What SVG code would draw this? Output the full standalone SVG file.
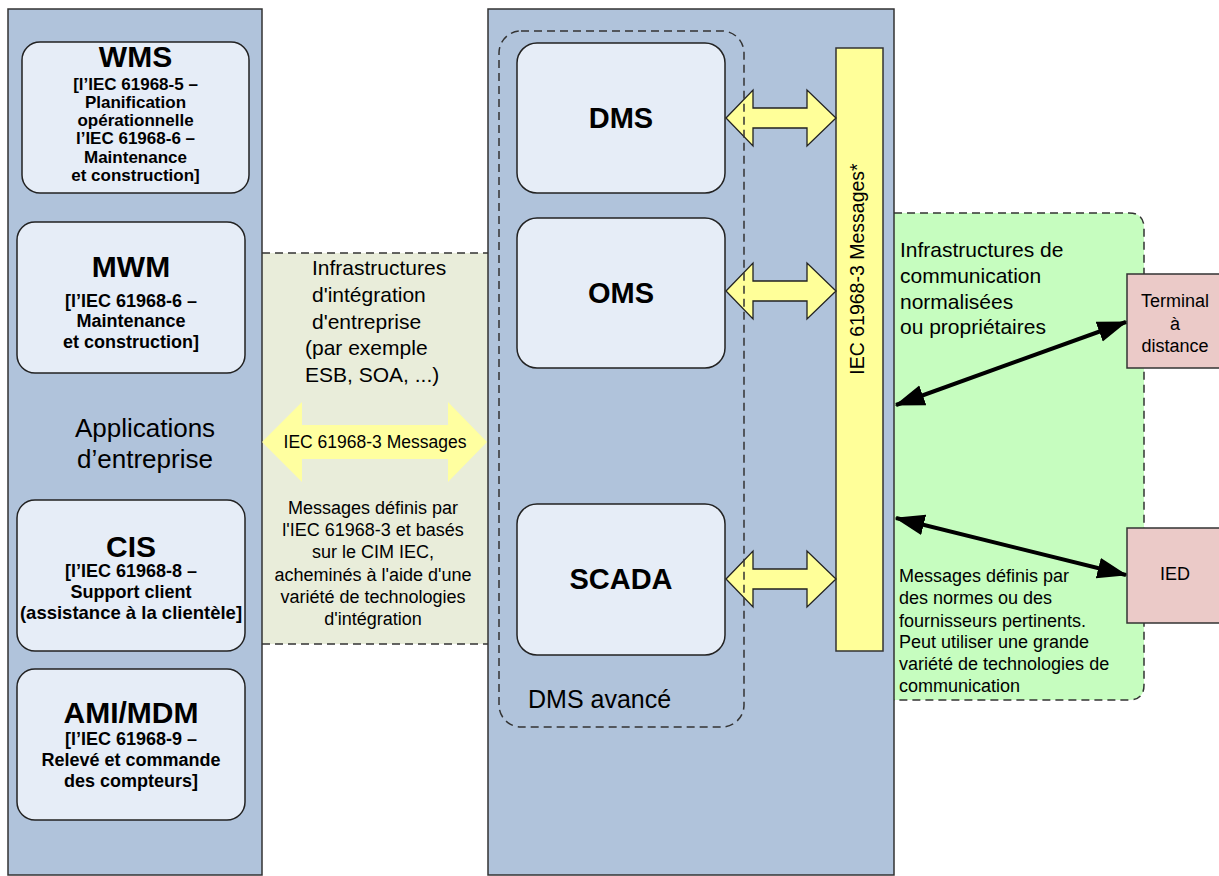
<svg xmlns="http://www.w3.org/2000/svg" width="1219" height="876" viewBox="0 0 1219 876">
<defs>
<style>
text{font-family:"Liberation Sans",Arial,sans-serif;fill:#000}
.panel{fill:#b0c3db;stroke:#333;stroke-width:1.5}
.box{fill:#e6edf7;stroke:#222;stroke-width:1.5}
.ttl{font-weight:bold;font-size:30px;text-anchor:middle}
.sub{font-weight:bold;font-size:18px;text-anchor:middle}
.sys{font-weight:bold;font-size:29px;text-anchor:middle}
.dash{fill:none;stroke:#333;stroke-width:1.5;stroke-dasharray:8 5}
.blk{fill:#ffff99;stroke:#222;stroke-width:1.3}
.big{fill:#ffffa0}
.t18{font-size:18px}
.t21{font-size:21px}
.mid{text-anchor:middle}
.dev{fill:#ebcac8;stroke:#333;stroke-width:1.5}
.line{stroke:#000;stroke-width:4;fill:none;marker-start:url(#ah);marker-end:url(#ah)}
</style>
<marker id="ah" viewBox="0 0 10 7" refX="9.5" refY="3.5" markerWidth="7.5" markerHeight="5.5" orient="auto-start-reverse" markerUnits="strokeWidth"><path d="M0,0 L10,3.5 L0,7 z" fill="#000"/></marker>
</defs>
<rect width="1219" height="876" fill="#fff"/>

<g id="integration-band">
<rect x="262" y="253" width="226" height="391" fill="#e9edda"/>
<line x1="262" y1="253" x2="488" y2="253" class="dash"/>
<line x1="262" y1="644" x2="488" y2="644" class="dash"/>
<text class="t21" x="312" y="275">Infrastructures</text>
<text class="t21" x="312" y="302">d'intégration</text>
<text class="t21" x="312" y="329">d'entreprise</text>
<text class="t21" x="305" y="355">(par exemple</text>
<text class="t21" x="305" y="382">ESB, SOA, ...)</text>
<g class="t18 mid">
<text x="373" y="514">Messages définis par</text>
<text x="373" y="536">l'IEC 61968-3 et basés</text>
<text x="373" y="558">sur le CIM IEC,</text>
<text x="373" y="581">acheminés à l'aide d'une</text>
<text x="373" y="603">variété de technologies</text>
<text x="373" y="625">d'intégration</text>
</g>
</g>

<g id="comm-area">
<path d="M894,213 H1129 Q1144,213 1144,228 V685 Q1144,700 1129,700 H894 Z" fill="#c6fdbf"/>
<path d="M894,213 H1129 Q1144,213 1144,228 V685 Q1144,700 1129,700 H894" class="dash"/>
<text class="t21" x="900" y="257">Infrastructures de</text>
<text class="t21" x="900" y="283">communication</text>
<text class="t21" x="900" y="309">normalisées</text>
<text class="t21" x="900" y="334">ou propriétaires</text>
<text class="t18" x="899" y="582">Messages définis par</text>
<text class="t18" x="899" y="604">des normes ou des</text>
<text class="t18" x="899" y="627">fournisseurs pertinents.</text>
<text class="t18" x="899" y="648">Peut utiliser une grande</text>
<text class="t18" x="899" y="670">variété de technologies de</text>
<text class="t18" x="899" y="692">communication</text>
</g>

<g id="enterprise-apps">
<rect x="8" y="9" width="254" height="866" class="panel"/>
<text x="145" y="437" font-size="26" text-anchor="middle">Applications</text>
<text x="145" y="468" font-size="26" text-anchor="middle">d’entreprise</text>
</g>

<g id="wms">
<rect x="22" y="42" width="227" height="151" rx="18" class="box"/>
<text class="ttl" x="135.5" y="67">WMS</text>
<g class="sub" style="font-size:17px">
<text x="135.5" y="90">[l’IEC 61968-5 –</text>
<text x="135.5" y="108">Planification</text>
<text x="135.5" y="126">opérationnelle</text>
<text x="135.5" y="144">l’IEC 61968-6 –</text>
<text x="135.5" y="163">Maintenance</text>
<text x="135.5" y="181">et construction]</text>
</g>
</g>

<g id="mwm">
<rect x="17" y="222" width="228" height="151" rx="18" class="box"/>
<text class="ttl" x="131" y="277">MWM</text>
<text class="sub" x="131" y="307">[l’IEC 61968-6 –</text>
<text class="sub" x="131" y="327">Maintenance</text>
<text class="sub" x="131" y="348">et construction]</text>
</g>

<g id="cis">
<rect x="17" y="500" width="228" height="151" rx="18" class="box"/>
<text class="ttl" x="131" y="557">CIS</text>
<text class="sub" x="131" y="577">[l’IEC 61968-8 –</text>
<text class="sub" x="131" y="598">Support client</text>
<text class="sub" x="131" y="619" style="font-size:18.5px">(assistance à la clientèle]</text>
</g>

<g id="ami-mdm">
<rect x="17" y="669" width="228" height="151" rx="18" class="box"/>
<text class="ttl" x="131" y="723">AMI/MDM</text>
<text class="sub" x="131" y="745">[l’IEC 61968-9 –</text>
<text class="sub" x="131" y="766">Relevé et commande</text>
<text class="sub" x="131" y="787">des compteurs]</text>
</g>

<g id="dms-panel">
<rect x="488" y="9" width="406" height="866" class="panel"/>
</g>

<g id="dms">
<rect x="517" y="43" width="208" height="150" rx="20" class="box"/>
<text class="sys" x="621" y="128">DMS</text>
</g>
<g id="oms">
<rect x="517" y="218" width="208" height="150" rx="20" class="box"/>
<text class="sys" x="621" y="303">OMS</text>
</g>
<g id="scada">
<rect x="517" y="504" width="208" height="151" rx="20" class="box"/>
<text class="sys" x="621" y="589">SCADA</text>
</g>

<g id="message-bus">
<rect x="836" y="48" width="47" height="603" fill="#ffff99" stroke="#333" stroke-width="1.5"/>
<text x="0" y="0" font-size="19.5" text-anchor="middle" transform="translate(864,269) rotate(-90)">IEC 61968-3 Messages*</text>
</g>

<g id="terminal">
<rect x="1127" y="274" width="100" height="94" class="dev"/>
<text class="t18 mid" x="1175" y="307">Terminal</text>
<text class="t18 mid" x="1175" y="330">à</text>
<text class="t18 mid" x="1175" y="352">distance</text>
</g>
<g id="ied">
<rect x="1127" y="528" width="100" height="95" class="dev"/>
<text class="t18 mid" x="1175" y="580">IED</text>
</g>

<g id="connectors">
<polygon class="big" points="262,442 302,402 302,425 448,425 448,402 487,442 448,482 448,459 302,459 302,482"/>
<text x="375" y="448" font-size="17.5" text-anchor="middle">IEC 61968-3 Messages</text>
<polygon class="blk" points="726,118 753,90 753,108 807,108 807,90 836,118 807,146 807,128 753,128 753,146"/>
<polygon class="blk" points="726,291 753,263 753,281 807,281 807,263 836,291 807,319 807,301 753,301 753,319"/>
<polygon class="blk" points="726,579 753,551 753,569 807,569 807,551 836,579 807,607 807,589 753,589 753,607"/>
<line class="line" x1="896" y1="405" x2="1126" y2="322"/>
<line class="line" x1="896" y1="518" x2="1126" y2="575"/>
</g>

<g id="dms-avance">
<rect x="499" y="31" width="245" height="696" rx="22" class="dash"/>
<text x="528" y="708" font-size="25">DMS avancé</text>
</g>
</svg>
